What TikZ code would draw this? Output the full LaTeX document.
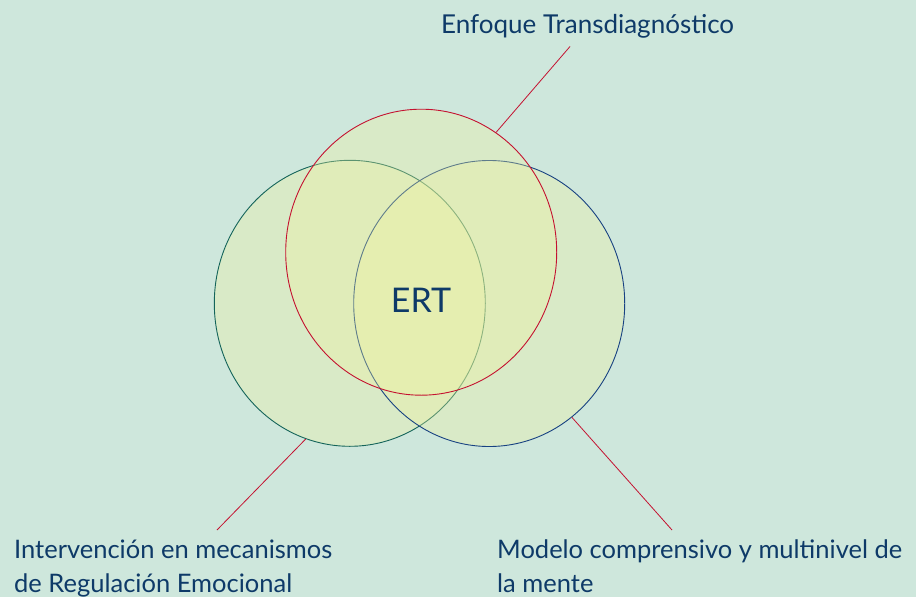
\documentclass[tikz,border=0pt]{standalone}
\usepackage{fontspec}
\setmainfont{Lato}
\usetikzlibrary{shapes.geometric}
\definecolor{bgc}{RGB}{206,231,220}
\definecolor{fillc}{RGB}{240,243,158}
\definecolor{txtc}{RGB}{14,58,104}
\definecolor{redc}{RGB}{196,18,48}
\definecolor{tealc}{RGB}{20,100,90}
\definecolor{bluec}{RGB}{24,66,130}
\tikzset{
  venn/.style={ellipse, minimum width=271pt, minimum height=286pt, inner sep=0pt,
    fill=fillc, fill opacity=0.33, line width=0.9pt},
  leader/.style={draw=redc, line width=0.8pt},
  lbl/.style={text=txtc, font=\fontsize{25.5}{33.5}\selectfont, inner sep=0pt, align=left},
}
\begin{document}
\begin{tikzpicture}[x=1pt,y=-1pt]
\fill[bgc] (0,0) rectangle (916,597);
\useasboundingbox (0,0) rectangle (916,597);
\node[venn, draw=tealc] (L) at (349.8,303.3) {};
\node[venn, draw=bluec] (R) at (489.2,303.5) {};
\node[venn, draw=redc] (T) at (421.2,252.2) {};
\node[text=txtc, font=\fontsize{34}{40}\selectfont, inner sep=0pt] (ert) at (421,300) {ERT};
\node[lbl, anchor=base west, font=\fontsize{26}{32}\selectfont] (top) at (441,34) {Enfoque Transdiagnóstico};
\node[lbl, anchor=north west] (left) at (14,540) {Intervención en mecanismos\\de Regulación Emocional};
\node[lbl, anchor=north west] (right) at (497,540) {Modelo comprensivo y multinivel de\\la mente};
\coordinate (tEnd) at (570,46.5);
\coordinate (lEnd) at (217,530);
\coordinate (rEnd) at (672,530);
\draw[leader] (T.58.3) -- (tEnd);
\draw[leader] (L.252.7) -- (lEnd);
\draw[leader] (R.306.2) -- (rEnd);
\end{tikzpicture}
\end{document}
